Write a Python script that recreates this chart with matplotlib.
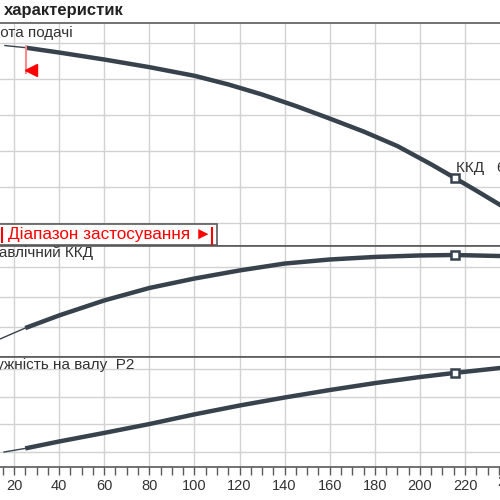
import numpy as np
import matplotlib.pyplot as plt
from matplotlib.patches import Rectangle

plt.rcParams['font.family'] = ['Liberation Sans', 'DejaVu Sans']

# подача, м3/год
q_head = [16, 25, 40, 60, 80, 100, 115, 130, 145, 160, 175, 190, 205, 215.5, 225, 236]
head = [29.65, 29.36, 28.68, 27.71, 26.65, 25.45, 24.25, 22.85, 21.25, 19.51,
        17.71, 15.69, 13.15, 11.25, 9.5, 7.43]

q_eff = [13.8, 25, 40, 60, 80, 100, 120, 140, 160, 180, 200, 215.5, 236]
eff = [12.0, 19.3, 27.7, 37.7, 46.0, 52.3, 57.7, 62.3, 65.0, 66.7, 67.7, 68.0, 67.3]

q_p2 = [15.6, 25, 40, 60, 80, 100, 120, 140, 160, 180, 200, 215.5, 236]
p2 = [1.0, 1.13, 1.38, 1.69, 2.01, 2.36, 2.68, 2.97, 3.24, 3.49, 3.71, 3.86, 4.04]

q_duty = 215.5
q_min = 25.3
xlabels = [20, 40, 60, 80, 100, 120, 140, 160, 180, 200, 220]

line_c = '#37424d'
grid_c = '#d2d2d2'
spine_c = '#5a5a5a'
txt_c = '#333333'

fig = plt.figure(figsize=(5, 5), dpi=100)
ax1 = fig.add_axes([0, 0.508, 1, 0.446])
ax2 = fig.add_axes([0, 0.286, 1, 0.222])
ax3 = fig.add_axes([0, 0.066, 1, 0.220])

xlim = (13.8, 235.5)
for ax in (ax1, ax2, ax3):
    ax.set_xlim(*xlim)
    ax.set_xticks(xlabels)
    ax.set_xticks(np.arange(15, 236, 5), minor=True)
    ax.grid(True, color=grid_c, lw=1)
    ax.set_axisbelow(True)
    for s in ('left', 'right'):
        ax.spines[s].set_visible(False)
    for s in ('top', 'bottom'):
        ax.spines[s].set_color(spine_c)
        ax.spines[s].set_linewidth(1.2)
    ax.tick_params(axis='y', length=0, labelleft=False)

for ax in (ax1, ax2):
    ax.tick_params(axis='x', which='both', length=0, labelbottom=False)

ax3.tick_params(axis='x', which='both', length=6, width=1, color=spine_c,
                labelsize=10.5, labelcolor=txt_c, pad=3)

# висота подачі
ax1.set_ylim(1.81, 32.78)
ax1.set_yticks([5, 10, 15, 20, 25, 30])
ax1.plot(q_head[:2], head[:2], color=line_c, lw=1)
ax1.plot(q_head[1:], head[1:], color=line_c, lw=3.2, solid_capstyle='butt')
i = q_head.index(q_duty)
ax1.plot(q_duty, head[i], 's', ms=6, mfc='white', mec=line_c, mew=1.8)
ax1.text(q_duty + 0.3, head[i] + 1.4, 'ККД   68,1%', fontsize=11, color=txt_c,
         va='center', ha='left', clip_on=False)
ax1.plot([q_min, q_min], [29.4, 25.8], color='#ff8a8a', lw=1.5)
ax1.plot(q_min + 2.3, 26.3, '<', ms=9, color='#ff0000', mec='#ff0000')

# гідравлічний ККД
ax2.set_ylim(0, 74)
ax2.set_yticks([20, 40, 60])
ax2.plot(q_eff[:2], eff[:2], color=line_c, lw=1)
ax2.plot(q_eff[1:], eff[1:], color=line_c, lw=3.2, solid_capstyle='butt')
i = q_eff.index(q_duty)
ax2.plot(q_duty, eff[i], 's', ms=6, mfc='white', mec=line_c, mew=1.8)

# потужність на валу
ax3.set_ylim(0.458, 4.434)
ax3.set_yticks([1, 2, 3, 4])
ax3.plot(q_p2[:2], p2[:2], color=line_c, lw=1)
ax3.plot(q_p2[1:], p2[1:], color=line_c, lw=3.2, solid_capstyle='butt')
i = q_p2.index(q_duty)
ax3.plot(q_duty, p2[i], 's', ms=6, mfc='white', mec=line_c, mew=1.8)

# підписи
fig.text(0.008, 0.978, 'характеристик', fontsize=12, fontweight='bold',
         color='#222222', va='center', ha='left')
fig.text(0.146, 0.934, 'Висота подачі', fontsize=11, color=txt_c,
         va='center', ha='right')
fig.text(0.187, 0.493, 'Гідравлічний ККД', fontsize=11, color=txt_c,
         va='center', ha='right')
fig.text(0.268, 0.270, 'Потужність на валу  P2', fontsize=11, color=txt_c,
         va='center', ha='right')
fig.text(1.02, 0.036, '240', fontsize=10.5, color=txt_c, va='center', ha='center')

# діапазон застосування
box = Rectangle((-0.01, 1 - 245 / 500), 0.444, 21 / 500, transform=fig.transFigure,
                facecolor='white', edgecolor=spine_c, lw=1.2, zorder=2)
fig.patches.append(box)
fig.text(0.016, 1 - 235 / 500, 'Діапазон застосування ►', fontsize=12.3,
         color='#ff0000', va='center', ha='left', zorder=3)
fig.add_artist(plt.Line2D([0.424, 0.424], [1 - 244 / 500, 1 - 228 / 500],
                          transform=fig.transFigure, color='#ff0000', lw=1.5, zorder=3))
fig.add_artist(plt.Line2D([0.003, 0.003], [1 - 242 / 500, 1 - 228 / 500],
                          transform=fig.transFigure, color='#ff0000', lw=1.5, zorder=3))

fig.savefig('out.png', dpi=100)
